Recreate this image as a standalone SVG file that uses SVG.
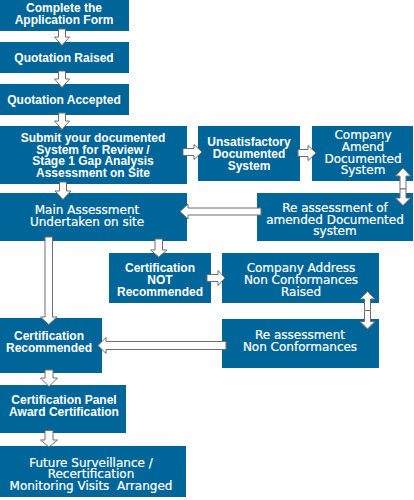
<svg xmlns="http://www.w3.org/2000/svg" width="414" height="500" viewBox="0 0 414 500">
<style>
.box{fill:#006699}
.a{font-family:"Liberation Sans",Arial,sans-serif;font-weight:bold;font-size:12px;fill:#fff;text-anchor:middle}
.v{font-family:"DejaVu Sans",Verdana,sans-serif;font-size:12px;fill:#fff;text-anchor:middle;stroke:#fff;stroke-width:0.2;white-space:pre}
.arr{fill:#fff;stroke:#6e6e6e;stroke-width:1;stroke-linejoin:miter}
</style>
<rect width="414" height="500" fill="#fff"/>
<g id="n1"><rect class="box" x="0" y="0" width="129" height="31"/><text class="a" y="12"><tspan x="64">Complete the</tspan><tspan x="64" dy="12">Application Form</tspan></text></g>
<g id="n2"><rect class="box" x="0" y="42" width="129" height="31"/><text class="a" x="64" y="62">Quotation Raised</text></g>
<g id="n3"><rect class="box" x="0" y="84" width="129" height="31"/><text class="a" x="64" y="104">Quotation Accepted</text></g>
<g id="n4"><rect class="box" x="0" y="126" width="187" height="58"/><text class="a" y="142"><tspan x="93">Submit your documented</tspan><tspan x="93" dy="11.7">System for Review /</tspan><tspan x="93" dy="11.7">Stage 1 Gap Analysis</tspan><tspan x="93" dy="11.6">Assessment on Site</tspan></text></g>
<g id="n5"><rect class="box" x="0" y="193" width="187" height="48"/><text class="v" y="214"><tspan x="87">Main Assessment</tspan><tspan x="87" dy="12">Undertaken on site</tspan></text></g>
<g id="n6"><rect class="box" x="198" y="126" width="102" height="55"/><text class="a" y="146"><tspan x="249">Unsatisfactory</tspan><tspan x="249" dy="12">Documented</tspan><tspan x="249" dy="12">System</tspan></text></g>
<g id="n7"><rect class="box" x="312" y="126" width="101" height="55"/><text class="v" y="139"><tspan x="363">Company</tspan><tspan x="363" dy="12">Amend</tspan><tspan x="363" dy="12">Documented</tspan><tspan x="363" dy="11">System</tspan></text></g>
<g id="n8"><rect class="box" x="257" y="193" width="156" height="48"/><text class="v" y="212"><tspan x="335">Re assessment of</tspan><tspan x="335" dy="12">amended Documented</tspan><tspan x="335" dy="11">system</tspan></text></g>
<g id="n9"><rect class="box" x="109" y="253" width="102" height="50"/><text class="a" y="272"><tspan x="160">Certification</tspan><tspan x="160" dy="12">NOT</tspan><tspan x="160" dy="12">Recommended</tspan></text></g>
<g id="n10"><rect class="box" x="222" y="253" width="157" height="50"/><text class="v" y="272"><tspan x="301">Company Address</tspan><tspan x="301" dy="12">Non Conformances</tspan><tspan x="301" dy="12">Raised</tspan></text></g>
<g id="n11"><rect class="box" x="222" y="319" width="157" height="49"/><text class="v" y="339"><tspan x="300">Re assessment</tspan><tspan x="300" dy="12">Non Conformances</tspan></text></g>
<g id="n12"><rect class="box" x="0" y="318" width="102" height="55"/><text class="a" y="340"><tspan x="49">Certification</tspan><tspan x="49" dy="12">Recommended</tspan></text></g>
<g id="n13"><rect class="box" x="0" y="385" width="126" height="48"/><text class="a" y="404"><tspan x="64">Certification Panel</tspan><tspan x="64" dy="12">Award Certification</tspan></text></g>
<g id="n14"><rect class="box" x="0" y="446" width="186" height="51"/><text class="v" y="467"><tspan x="91">Future Surveillance /</tspan><tspan x="91" dy="11">Recertification</tspan><tspan x="91" dy="12">Monitoring Visits  Arranged</tspan></text></g>
<g id="connectors">
<path class="arr" d="M58.5 29H65.5V37H69.5L62 45.5L54.5 37H58.5Z"/>
<path class="arr" d="M58.5 71H65.5V79H69.5L62 87.5L54.5 79H58.5Z"/>
<path class="arr" d="M58.5 113H65.5V121H69.5L62 129.5L54.5 121H58.5Z"/>
<path class="arr" d="M59.5 182H66.5V191H71L63 199.5L55 191H59.5Z"/>
<path class="arr" d="M183 148.5H194V144.5L202 152L194 159.5V155.5H183Z"/>
<path class="arr" d="M298 149.5H308V145.5L316 153L308 160.5V156.5H298Z"/>
<path class="arr" d="M400 189V176H395.5L403 168L410.5 176H406V189Z"/>
<path class="arr" d="M400 189V198H395.5L403 205.5L410.5 198H406V189Z"/>
<path class="arr" d="M261 208H188V204L180 211.5L188 219V215H261Z"/>
<path class="arr" d="M45 237H52.5V317H57L48.75 324.5L40.5 317H45Z"/>
<path class="arr" d="M155 239H162.5V250H167L158.75 257L150.5 250H155Z"/>
<path class="arr" d="M207 274.5H218V270.5L225 278L218 285.5V281.5H207Z"/>
<path class="arr" d="M364.5 310.5V299H360L367.5 291.5L375 299H370.5V310.5Z"/>
<path class="arr" d="M364.5 310.5V321.5H360L367.5 329L375 321.5H370.5V310.5Z"/>
<path class="arr" d="M226 341.5H106V337.5L98 345.5L106 353.5V349.5H226Z"/>
<path class="arr" d="M45 370H53V378H57.5L49 386.5L40.5 378H45Z"/>
<path class="arr" d="M45 430.5H53V440H57.5L49 447L40.5 440H45Z"/>
</g>
</svg>
